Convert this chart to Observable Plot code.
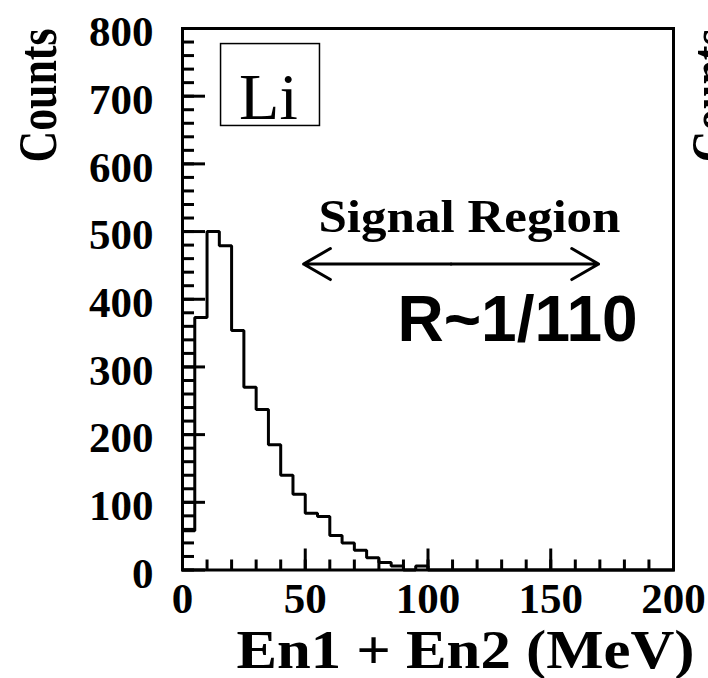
<!DOCTYPE html>
<html>
<head>
<meta charset="utf-8">
<script src="https://cdn.jsdelivr.net/npm/d3@7"></script>
<script src="https://cdn.jsdelivr.net/npm/@observablehq/plot@0.6"></script>
<style>
  html, body { margin: 0; padding: 0; background: #fff; }
  svg { display: block; }
</style>
</head>
<body>
<div id="chart"></div>
<script>
// ---- data ----
const binEdges = [0, 5, 10, 15, 20, 25, 30, 35, 40, 45, 50, 55, 60, 65, 70, 75, 80, 85, 90, 95];
const counts   = [58, 373, 500, 479, 354, 270, 237, 185, 140, 112, 84, 79, 51, 40, 29, 18, 11, 6, 0, 6];
const histEnd = 100;      // upper edge of last bin (MeV)
const axisEnd = 200;

const xTicks = [0, 50, 100, 150, 200];
const xMinorTicks = [0, 10, 20, 30, 40, 50, 60, 70, 80, 90, 100, 110, 120, 130, 140, 150, 160, 170, 180, 190, 200];
const yTicks = [0, 100, 200, 300, 400, 500, 600, 700, 800];
const yMinorTicks = [0, 20, 40, 60, 80, 100, 120, 140, 160, 180, 200, 220, 240, 260, 280, 300, 320, 340, 360, 380,
                     400, 420, 440, 460, 480, 500, 520, 540, 560, 580, 600, 620, 640, 660, 680, 700, 720, 740, 760, 780, 800];

const xTitle = "En1 + En2 (MeV)";
const yTitle = "Counts";
const targetLabel = "Li";
const regionLabel = "Signal Region";
const ratioLabel = "R~1/110";

// annotation anchors in data units (MeV, counts)
const signalRegion = [49.3, 169.5];
const signalArrowY = 452;
const regionLabelPos = {x: 116.9, y: 499};
const ratioLabelPos = {x: 136.5, y: 338};
const targetBox = {x1: 15.7, x2: 56.0, y1: 656, y2: 777};
const targetLabelPos = {x: 35.0, y: 667};

// ---- derived tables ----
const steps = binEdges.map((e, i) => ({edge: e, count: counts[i]}))
  .concat([{edge: histEnd, count: 0}, {edge: axisEnd, count: 0}]);
const mid = (signalRegion[0] + signalRegion[1]) / 2;
const arrows = [
  {x1: mid, x2: signalRegion[0], y: signalArrowY},
  {x1: mid, x2: signalRegion[1], y: signalArrowY}
];

const W = 708, H = 678;
const mL = 182, mR = 35, mT = 28, mB = 108.5;
const plotW = W - mL - mR, plotH = H - mT - mB;
const serif = "'Liberation Serif', 'Times New Roman', serif";
const sans = "'Liberation Sans', Arial, sans-serif";

const chart = Plot.plot({
  width: W, height: H,
  marginLeft: mL, marginRight: mR, marginTop: mT, marginBottom: mB,
  style: {background: "#fff", color: "#000"},
  x: {domain: [0, axisEnd], label: null},
  y: {domain: [0, 800], label: null},
  marks: [
    // inward ticks
    Plot.ruleY(yMinorTicks, {y: d => d, insetRight: plotW - 12, strokeWidth: 3, stroke: "#000"}),
    Plot.ruleY(yTicks, {y: d => d, insetRight: plotW - 23, strokeWidth: 3, stroke: "#000"}),
    Plot.ruleX(xMinorTicks, {x: d => d, insetTop: plotH - 10, strokeWidth: 3, stroke: "#000"}),
    Plot.ruleX(xTicks, {x: d => d, insetTop: plotH - 21, strokeWidth: 3, stroke: "#000"}),
    // histogram outline
    Plot.line(steps, {x: "edge", y: "count", curve: "step-after", stroke: "#000", strokeWidth: 3, strokeLinejoin: "miter"}),
    Plot.frame({stroke: "#000", strokeWidth: 3}),
    // axes labels
    Plot.axisX(xTicks, {anchor: "bottom", tickSize: 0, tickPadding: 12, label: null, tickFormat: d => String(d),
      fontSize: 43, fontFamily: serif, fontWeight: "bold"}),
    Plot.axisY(yTicks, {anchor: "left", tickSize: 0, tickPadding: 29, dy: 4, label: null, tickFormat: d => String(d),
      fontSize: 43, fontFamily: serif, fontWeight: "bold"}),
    // titles
    Plot.text([xTitle], {frameAnchor: "bottom-right", text: d => d, textAnchor: "end", lineAnchor: "bottom",
      dx: 21, dy: 98, fontSize: 55, fontFamily: serif, fontWeight: "bold", fill: "#000"}),
    Plot.text([yTitle], {frameAnchor: "top-left", text: d => d, rotate: -90, textAnchor: "end", lineAnchor: "bottom",
      dx: -127, fontSize: 55, fontFamily: serif, fontWeight: "bold", fill: "#000"}),
    // neighbouring panel's title, cut off at the right edge as in the reference
    Plot.text([yTitle], {frameAnchor: "top-right", text: d => d, rotate: -90, textAnchor: "end", lineAnchor: "bottom",
      dx: 55, fontSize: 55, fontFamily: serif, fontWeight: "bold", fill: "#000"}),
    // Li box
    Plot.rect([targetBox], {x1: "x1", x2: "x2", y1: "y1", y2: "y2", fill: "none", stroke: "#000", strokeWidth: 1.5}),
    Plot.text([targetLabelPos], {x: "x", y: "y", text: () => targetLabel, textAnchor: "middle", lineAnchor: "bottom",
      fontSize: 66, fontFamily: serif, fill: "#000"}),
    // signal region
    Plot.arrow(arrows, {x1: "x1", y1: "y", x2: "x2", y2: "y", stroke: "#000", strokeWidth: 3,
      headAngle: 60, headLength: 15.5}),
    Plot.text([regionLabelPos], {x: "x", y: "y", text: () => regionLabel, textAnchor: "middle", lineAnchor: "bottom",
      fontSize: 46, fontFamily: serif, fontWeight: "bold", fill: "#000"}),
    Plot.text([ratioLabelPos], {x: "x", y: "y", text: () => ratioLabel, textAnchor: "middle", lineAnchor: "bottom",
      fontSize: 64, fontFamily: sans, fontWeight: "bold", fill: "#000"})
  ]
});

// match the widths of the serif labels in the reference
chart.querySelectorAll("text").forEach(t => {
  const s = t.textContent;
  if (s === xTitle) { t.setAttribute("textLength", 458); t.setAttribute("lengthAdjust", "spacingAndGlyphs"); }
  if (s === regionLabel) { t.setAttribute("textLength", 302); t.setAttribute("lengthAdjust", "spacingAndGlyphs"); }
  if (s === yTitle) { t.setAttribute("textLength", 134); t.setAttribute("lengthAdjust", "spacingAndGlyphs"); }
});

document.getElementById("chart").appendChild(chart);
</script>
</body>
</html>
